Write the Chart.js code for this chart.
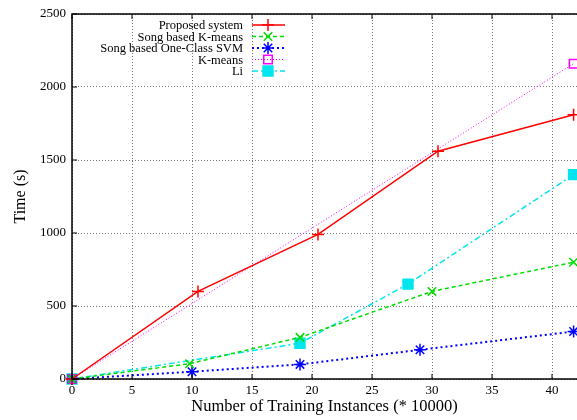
<!DOCTYPE html>
<html>
<head>
<meta charset="utf-8">
<script src="https://cdn.jsdelivr.net/npm/chart.js@4.4.1/dist/chart.umd.min.js"></script>
<style>
  html, body { margin: 0; padding: 0; background: #fff; }
  #wrap { width: 577px; height: 420px; }
</style>
</head>
<body>
<div id="wrap"><canvas id="chart"></canvas></div>
<script>
// valores (x em unidades de 10000 instâncias, y em segundos)
const serieNomes = ["Proposed system", "Song based K-means", "Song based One-Class SVM", "K-means", "Li"];

const propostoX = [0, 10.5, 20.5, 30.5, 41.8];
const propostoY = [0, 600, 990, 1560, 1810];

const songKmX = [0, 9.8, 19, 30, 41.8];
const songKmY = [0, 105, 285, 600, 800];

const songSvmX = [0, 10, 19, 29, 41.8];
const songSvmY = [0, 50, 100, 200, 325];

const kmeansX = [0, 41.8];
const kmeansY = [0, 2160];

const liX = [0, 19, 28, 41.8];
const liY = [0, 245, 650, 1400];

const xTicks = [0, 5, 10, 15, 20, 25, 30, 35, 40];
const yTicks = [0, 500, 1000, 1500, 2000, 2500];

const FONTE = "'Liberation Serif', 'DejaVu Serif', serif";

function pares(xs, ys) {
  return xs.map((x, i) => ({ x, y: ys[i] }));
}

const estilos = [
  { cor: "#ff0000", dash: [],           largura: 1.5, ponto: "cross",    raio: 6, fill: "#ff0000" },
  { cor: "#00dd00", dash: [4, 3],       largura: 1.5, ponto: "crossRot", raio: 6, fill: "#00dd00" },
  { cor: "#0000ff", dash: [2, 3],       largura: 2,   ponto: "star",     raio: 6, fill: "#0000ff" },
  { cor: "#ff00ff", dash: [1, 2],       largura: 1,   ponto: "rect",     raio: 6, fill: "rgba(0,0,0,0)" },
  { cor: "#00e5ee", dash: [6, 3, 2, 3], largura: 1.5, ponto: "rect",     raio: 7, fill: "#00e5ee" },
];

const dadosSeries = [
  pares(propostoX, propostoY),
  pares(songKmX, songKmY),
  pares(songSvmX, songSvmY),
  pares(kmeansX, kmeansY),
  pares(liX, liY),
];

// moldura, marcas internas e legenda no estilo gnuplot
const molduraPlugin = {
  id: "moldura",
  afterDraw(chart) {
    const { ctx, chartArea: a, scales } = chart;
    ctx.save();
    ctx.strokeStyle = "#000";
    ctx.lineWidth = 1.5;
    ctx.setLineDash([]);
    ctx.beginPath();
    ctx.moveTo(a.right + 2, a.top);
    ctx.lineTo(a.left, a.top);
    ctx.lineTo(a.left, a.bottom);
    ctx.lineTo(a.right + 2, a.bottom);
    ctx.stroke();

    ctx.lineWidth = 1;
    ctx.beginPath();
    xTicks.forEach(v => {
      const px = scales.x.getPixelForValue(v);
      ctx.moveTo(px, a.bottom); ctx.lineTo(px, a.bottom - 5);
      ctx.moveTo(px, a.top);    ctx.lineTo(px, a.top + 5);
    });
    yTicks.forEach(v => {
      const py = scales.y.getPixelForValue(v);
      ctx.moveTo(a.left, py); ctx.lineTo(a.left + 5, py);
    });
    ctx.stroke();

    // legenda
    ctx.font = "12.5px " + FONTE;
    ctx.textAlign = "right";
    ctx.textBaseline = "middle";
    chart.data.datasets.forEach((ds, i) => {
      const y = 25 + i * 11.5;
      const est = estilos[i];
      ctx.fillStyle = "#000";
      ctx.fillText(ds.label, 243, y + 1);
      ctx.strokeStyle = est.cor;
      ctx.lineWidth = est.largura;
      ctx.setLineDash(est.dash);
      ctx.beginPath();
      ctx.moveTo(252, y); ctx.lineTo(285, y);
      ctx.stroke();
      ctx.setLineDash([]);
      ctx.fillStyle = est.fill;
      ctx.lineWidth = 1.5;
      Chart.helpers.drawPoint(ctx, { pointStyle: est.ponto, radius: est.raio, rotation: 0, borderWidth: 1.5 }, 268, y);
    });
    ctx.restore();
  }
};

new Chart(document.getElementById("chart"), {
  type: "scatter",
  data: {
    datasets: dadosSeries.map((d, i) => ({
      label: serieNomes[i],
      data: d,
      showLine: true,
      borderColor: estilos[i].cor,
      backgroundColor: estilos[i].fill,
      borderWidth: estilos[i].largura,
      borderDash: estilos[i].dash,
      pointStyle: estilos[i].ponto,
      pointRadius: estilos[i].raio,
      pointBorderWidth: 1.5,
      pointBorderColor: estilos[i].cor,
      pointBackgroundColor: estilos[i].fill,
      tension: 0,
    }))
  },
  options: {
    responsive: true,
    maintainAspectRatio: false,
    animation: false,
    clip: false,
    layout: { autoPadding: false, padding: { top: 14, right: 0, left: 0, bottom: 0 } },
    plugins: { legend: { display: false }, tooltip: { enabled: false } },
    scales: {
      x: {
        type: "linear",
        min: 0,
        max: 505 / 12,
        afterBuildTicks: s => { s.ticks = xTicks.map(v => ({ value: v })); },
        afterFit: s => { s.height = 41; s.paddingLeft = 0; s.paddingRight = 0; },
        ticks: { color: "#000", font: { family: FONTE, size: 13 }, padding: 4, maxRotation: 0,
                 callback: v => String(v) },
        grid: { color: "#777", lineWidth: 1, drawTicks: false },
        border: { display: false, dash: [1, 2] },
        title: { display: true, text: "Number of Training Instances (* 10000)", color: "#000",
                 font: { family: FONTE, size: 16.5 }, padding: { top: 0, bottom: 3 } },
      },
      y: {
        min: 0,
        max: 2500,
        afterBuildTicks: s => { s.ticks = yTicks.map(v => ({ value: v })); },
        afterFit: s => { s.width = 72; s.paddingTop = 0; s.paddingBottom = 0; },
        ticks: { color: "#000", font: { family: FONTE, size: 13 }, padding: 6,
                 callback: v => String(v) },
        grid: { color: "#777", lineWidth: 1, drawTicks: false },
        border: { display: false, dash: [1, 2] },
        title: { display: true, text: "Time (s)", color: "#000",
                 font: { family: FONTE, size: 16 }, padding: { top: 11, bottom: 0 } },
      }
    }
  },
  plugins: [molduraPlugin]
});
</script>
</body>
</html>
